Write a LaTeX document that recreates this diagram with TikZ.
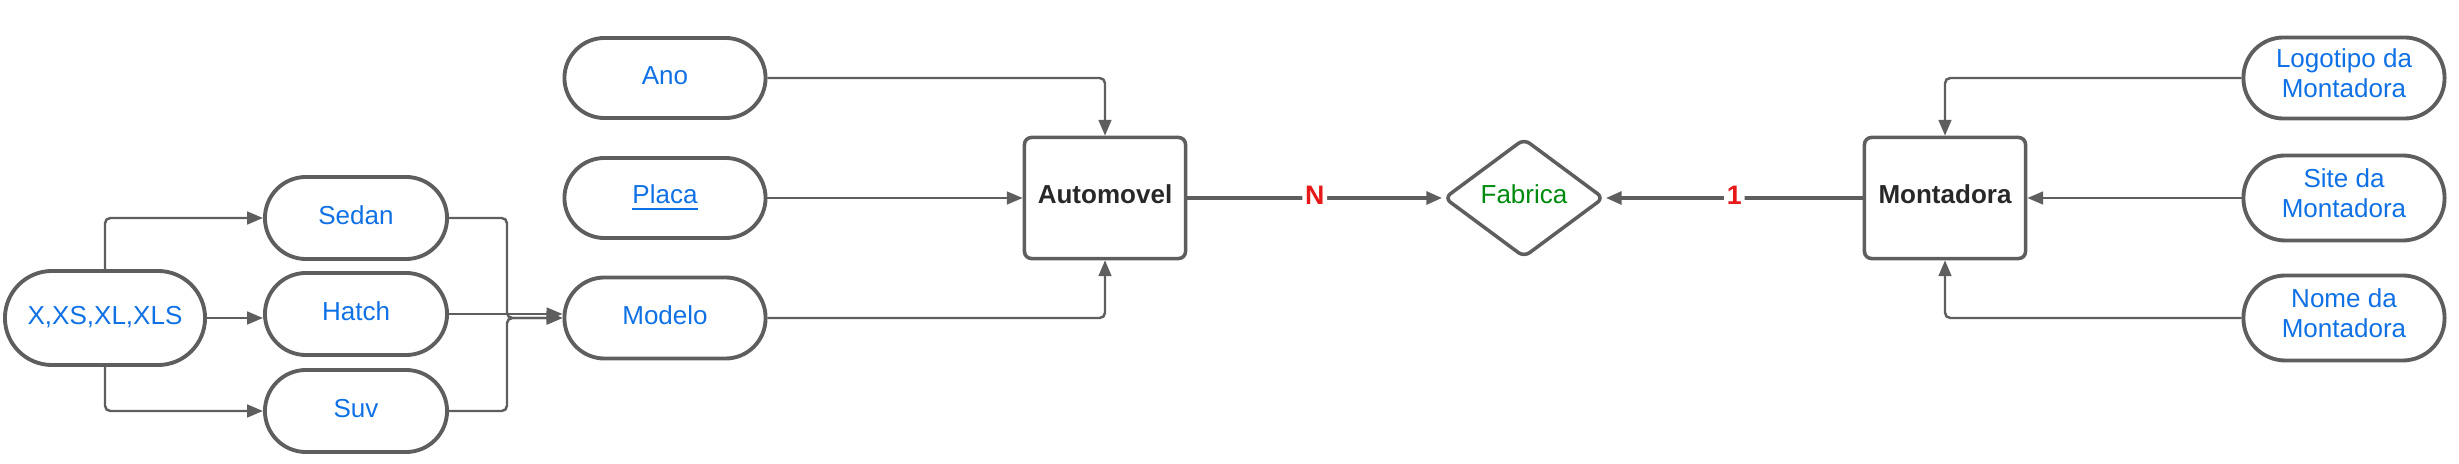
\documentclass[tikz,border=0pt]{standalone}
\usepackage{fontspec}
\setmainfont{Liberation Sans}
\usetikzlibrary{arrows.meta,shapes.geometric}
\definecolor{linha}{RGB}{94,94,94}
\definecolor{azul}{RGB}{16,113,229}
\definecolor{verde}{RGB}{0,138,14}
\definecolor{vermelho}{RGB}{230,24,24}
\definecolor{escuro}{RGB}{40,40,40}
\begin{document}
\begin{tikzpicture}[x=0.01cm,y=-0.01cm,
  sobe/.style={execute at end node={\rule[-#1]{0pt}{#1}}},
  sobe/.default=1.6pt,
  atrib/.style={draw=linha,line width=1.1pt,rounded corners=0.4cm,minimum width=2.01cm,minimum height=0.8cm,
    inner sep=1pt,align=center,text=azul,font=\fontsize{7.4}{8.5}\selectfont,sobe},
  entidade/.style={draw=linha,line width=1pt,rounded corners=2pt,minimum width=1.61cm,minimum height=1.21cm,
    text=escuro,font=\fontsize{7.4}{8.5}\selectfont\bfseries,sobe=2.2pt},
  relac/.style={diamond,draw=linha,line width=1pt,rounded corners=2pt,minimum width=1.6cm,minimum height=1.19cm,
    inner sep=0pt,text=verde,font=\fontsize{7.4}{8.5}\selectfont,sobe=2.2pt},
  conn/.style={draw=linha,line width=0.7pt,rounded corners=1.5pt,-{Triangle[length=4.5pt,width=3.6pt]}},
  connrel/.style={conn,line width=1.05pt},
  card/.style={fill=white,inner sep=0.8pt,text=vermelho,font=\fontsize{7.6}{9}\selectfont\bfseries,sobe=1.4pt}]
  \useasboundingbox (0,0) rectangle (2459,464);

  \node[atrib,minimum width=2cm,minimum height=0.94cm,rounded corners=0.47cm] (versao) at (105,318) {X,XS,XL,XLS};
  \node[atrib,minimum width=1.82cm,minimum height=0.82cm,rounded corners=0.41cm] (sedan) at (356,218) {Sedan};
  \node[atrib,minimum width=1.82cm,minimum height=0.82cm,rounded corners=0.41cm] (hatch) at (356,314) {Hatch};
  \node[atrib,minimum width=1.82cm,minimum height=0.82cm,rounded corners=0.41cm] (suv) at (356,411) {Suv};

  \node[atrib] (ano) at (665,78) {Ano};
  \node[atrib] (placa) at (665,198) {\underline{Placa}};
  \node[atrib,minimum height=0.81cm] (modelo) at (665,318) {Modelo};
  \node[entidade] (automovel) at (1105,198) {Automovel};

  \node[relac] (fabrica) at (1524,198) {Fabrica};

  \node[entidade] (montadora) at (1945,198) {Montadora};
  \node[atrib,minimum height=0.81cm,sobe=3pt] (logotipo) at (2344,78) {Logotipo da\\Montadora};
  \node[atrib,minimum height=0.85cm,rounded corners=0.42cm,sobe=3pt] (site) at (2344,198) {Site da\\Montadora};
  \node[atrib,minimum height=0.85cm,rounded corners=0.42cm,sobe=3pt] (nome) at (2344,318) {Nome da\\Montadora};

  \draw[conn] (versao.north) |- (sedan.west);
  \draw[conn] (versao.east) -- (versao.east -| hatch.west);
  \draw[conn] (versao.south) |- (suv.west);
  \draw[conn] (sedan.east) -- ++(58,0) |- (modelo.west);
  \draw[conn] (suv.east) -- ++(58,0) |- (modelo.west);
  \draw[conn] (hatch.east) -- (hatch.east -| modelo.west);

  \draw[conn] (ano.east) -| (automovel.north);
  \draw[conn] (placa) -- (automovel);
  \draw[conn] (modelo.east) -| (automovel.south);

  \draw[connrel] (automovel) -- node[card] {N} (fabrica);
  \draw[connrel] (montadora) -- node[card] {1} (fabrica);

  \draw[conn] (logotipo.west) -| (montadora.north);
  \draw[conn] (site) -- (montadora);
  \draw[conn] (nome.west) -| (montadora.south);
\end{tikzpicture}
\end{document}
